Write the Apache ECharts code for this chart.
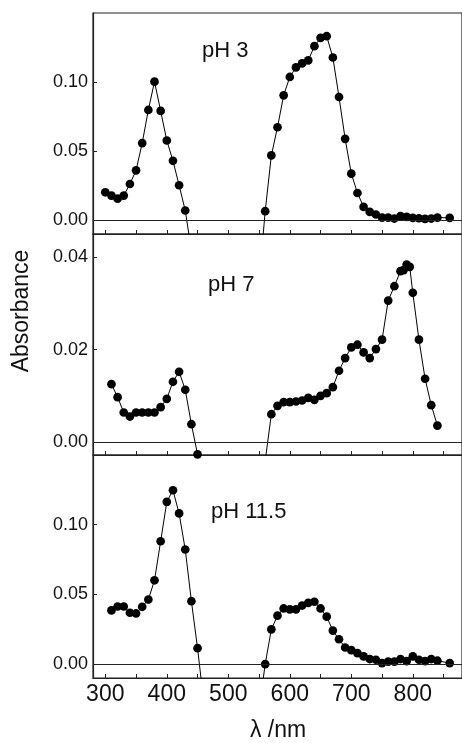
<!DOCTYPE html>
<html>
<head>
<meta charset="utf-8">
<script src="https://cdn.jsdelivr.net/npm/echarts@6/dist/echarts.min.js"></script>
<style>
html,body{margin:0;padding:0;background:#fff;}
#c{width:462px;height:743px;}
</style>
</head>
<body>
<div id="c"></div>
<script>
// ---------- data ----------
const panelLabels = ['pH 3', 'pH 7', 'pH 11.5'];

const wl_pH3 = [300,310,320,330,340,350,360,370,380,390,400,410,420,430,440,
  550,560,570,580,590,600,610,620,630,640,650,660,670,680,690,700,710,720,730,740,750,760,770,780,790,800,810,820,830,840,860];
const abs_pH3 = [0.0202,0.0178,0.0156,0.0178,0.0262,0.0361,0.0558,0.0798,0.1003,0.0791,0.0577,0.0430,0.0253,0.0070,-0.022,
  -0.045,0.0065,0.0469,0.0673,0.0904,0.1037,0.1106,0.1135,0.1157,0.1260,0.1320,0.1332,0.1178,0.0892,0.0589,0.0337,0.0197,0.0096,0.0060,0.0041,0.0019,0.0019,0.0012,0.0029,0.0024,0.0017,0.0014,0.0010,0.0012,0.0019,0.0017];

const wl_pH7 = [310,320,330,340,350,360,370,380,390,400,410,420,430,440,450,460,
  560,570,580,590,600,610,620,630,640,650,660,670,680,690,700,710,720,730,740,750,760,770,780,785,790,795,800,810,820,830,840];
const abs_pH7 = [0.01256,0.00975,0.00643,0.00556,0.00643,0.00643,0.00643,0.00643,0.00758,0.00939,0.01307,0.01523,0.01134,0.00390,-0.0026,-0.010,
  -0.004,0.00606,0.00787,0.00866,0.00866,0.00881,0.00903,0.00960,0.00917,0.01004,0.01061,0.01191,0.01545,0.01819,0.02050,0.02108,0.01942,0.01819,0.02014,0.02217,0.03061,0.03372,0.03697,0.0372,0.0384,0.0379,0.0323,0.02217,0.01372,0.00801,0.00361];

const wl_pH115 = [310,320,330,340,350,360,370,380,390,400,410,420,430,440,450,460,
  550,560,570,580,590,600,610,620,630,640,650,660,670,680,690,700,710,720,730,740,750,760,770,780,790,800,810,820,830,840,860];
const abs_pH115 = [0.0385,0.0413,0.0413,0.0368,0.0363,0.0411,0.0463,0.0601,0.0881,0.1164,0.1247,0.1081,0.0822,0.0451,0.0114,-0.027,
  -0.033,0.0000,0.0249,0.0347,0.0399,0.0392,0.0392,0.0420,0.0439,0.0447,0.0399,0.0340,0.0240,0.0178,0.0119,0.0100,0.0078,0.0055,0.0036,0.0031,0.0007,0.0017,0.0017,0.0036,0.0021,0.0055,0.0031,0.0021,0.0036,0.0024,0.0007];

const xLabelValues = [300,400,500,600,700,800];
const xTickValues = [300,350,400,450,500,550,600,650,700,750,800,850];
const yTicks_pH3 = [0, 0.05, 0.10];
const yTicks_pH7 = [0, 0.02, 0.04];
const yTicks_pH115 = [0, 0.05, 0.10];
const yRanges = [[-0.01, 0.15], [-0.00275, 0.045], [-0.01, 0.15]];

// ---------- chart ----------
const FONT = '"Liberation Sans", Arial, sans-serif';
const AX = '#222';
const zip = (a, b) => a.map((v, i) => [v, b[i]]);
const seriesData = [zip(wl_pH3, abs_pH3), zip(wl_pH7, abs_pH7), zip(wl_pH115, abs_pH115)];
const yTicks = [yTicks_pH3, yTicks_pH7, yTicks_pH115];

const grids = [
  {left: 93, right: -2, top: 13, height: 221},
  {left: 93, right: -2, top: 234, height: 221},
  {left: 93, right: -2, top: 455, height: 223}
].map(g => Object.assign(g, {show: true, borderColor: AX, borderWidth: 1.2, backgroundColor: 'transparent'}));

const xAxes = [0,1,2].map(i => ({
  type: 'value', gridIndex: i, min: 280, max: 880,
  axisLine: {show: true, onZero: false, lineStyle: {color: AX, width: 1.2}},
  axisTick: {show: true, inside: true, length: 4, customValues: xTickValues, lineStyle: {color: AX, width: 1}},
  axisLabel: {show: i === 2, customValues: xLabelValues, color: '#111', fontSize: 23, fontFamily: FONT, margin: 5},
  splitLine: {show: false}
}));

const yAxes = [0,1,2].map(i => ({
  type: 'value', gridIndex: i, min: yRanges[i][0], max: yRanges[i][1],
  axisLine: {show: true, onZero: false, lineStyle: {color: AX, width: 1.2}},
  axisTick: {show: true, inside: true, length: 4, customValues: yTicks[i], lineStyle: {color: AX, width: 1}},
  axisLabel: {customValues: yTicks[i], formatter: v => Number(v).toFixed(2), color: '#111', fontSize: 18, fontFamily: FONT, margin: 5},
  splitLine: {show: false}
}));

const series = [0,1,2].map(i => ({
  type: 'line', xAxisIndex: i, yAxisIndex: i, data: seriesData[i],
  clip: true, smooth: false,
  symbol: 'circle', symbolSize: 8.7,
  itemStyle: {color: '#000'},
  lineStyle: {color: '#000', width: 1},
  markLine: {
    silent: true, symbol: ['none','none'], label: {show: false},
    lineStyle: {color: AX, type: 'solid', width: 1},
    data: [{yAxis: 0}]
  }
}));

const labelPos = [[202, 51], [208, 285], [211, 512]];
const graphics = panelLabels.map((t, i) => ({
  type: 'text', left: labelPos[i][0], top: labelPos[i][1] - 11,
  style: {text: t, fill: '#111', font: '22px ' + FONT}
}));
graphics.push({
  type: 'text', x: 22, y: 311, rotation: Math.PI / 2,
  style: {text: 'Absorbance', fill: '#111', font: '23px ' + FONT, align: 'center', verticalAlign: 'middle'}
});
graphics.push({
  type: 'text', x: 278, y: 731,
  style: {text: 'λ /nm', fill: '#111', font: '23px ' + FONT, align: 'center', verticalAlign: 'middle'}
});

const chart = echarts.init(document.getElementById('c'));
chart.setOption({
  animation: false,
  backgroundColor: '#fff',
  grid: grids,
  xAxis: xAxes,
  yAxis: yAxes,
  series: series,
  graphic: graphics
});
</script>
</body>
</html>
